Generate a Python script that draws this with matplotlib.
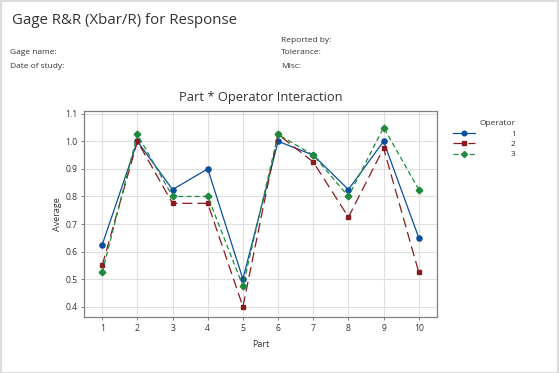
import matplotlib
matplotlib.use("Agg")
import matplotlib.pyplot as plt
from matplotlib.patches import Rectangle

plt.rcParams['font.family'] = ['Open Sans', 'DejaVu Sans']

parts = [1, 2, 3, 4, 5, 6, 7, 8, 9, 10]
operators = ["1", "2", "3"]
op1 = [0.625, 1.0, 0.825, 0.9, 0.5, 1.0, 0.95, 0.825, 1.0, 0.65]
op2 = [0.55, 1.0, 0.775, 0.775, 0.4, 1.025, 0.925, 0.725, 0.975, 0.525]
op3 = [0.525, 1.025, 0.8, 0.8, 0.475, 1.025, 0.95, 0.8, 1.05, 0.825]
yticks = [0.4, 0.5, 0.6, 0.7, 0.8, 0.9, 1.0, 1.1]

W, H = 559, 373
fig = plt.figure(figsize=(W / 100, H / 100), dpi=100)
fig.patch.set_facecolor('white')
fig.add_artist(Rectangle((0.5 / W, 0.5 / H), 1 - 1.5 / W, 1 - 1.5 / H,
                         transform=fig.transFigure, fill=False,
                         edgecolor='#d4d4d4', linewidth=1.2))

txtc = '#333333'
fig.text(12 / W, 1 - 20 / H, "Gage R&R (Xbar/R) for Response", fontsize=10.8,
         color=txtc, va='center', ha='left')
small = 6.0
fig.text(10 / W, 1 - 53 / H, "Gage name:", fontsize=small, color=txtc, va='center')
fig.text(10 / W, 1 - 66 / H, "Date of study:", fontsize=small, color=txtc, va='center')
fig.text(281 / W, 1 - 41 / H, "Reported by:", fontsize=small, color=txtc, va='center')
fig.text(281 / W, 1 - 53 / H, "Tolerance:", fontsize=small, color=txtc, va='center')
fig.text(281 / W, 1 - 66 / H, "Misc:", fontsize=small, color=txtc, va='center')

left, right, top, bottom = 84.3, 436.7, 111, 317.3
ax = fig.add_axes([left / W, 1 - bottom / H, (right - left) / W, (bottom - top) / H])

blue = '#0b4f9c'
red = '#8b1a1f'
green = '#1f8a3c'

ax.plot(parts, op1, color=blue, linestyle='-', linewidth=0.9, marker='o',
        markersize=3.7, label=operators[0], zorder=3)
ax.plot(parts, op2, color=red, linestyle=(0, (8, 4)), linewidth=0.9, marker='s',
        markersize=3.5, label=operators[1], zorder=3)
ax.plot(parts, op3, color=green, linestyle=(0, (4, 2.5)), linewidth=0.9, marker='D',
        markersize=3.4, label=operators[2], zorder=3)

ax.set_xlim(0.49, 10.51)
ax.set_ylim(0.3615, 1.110)
ax.set_xticks(parts)
ax.set_yticks(yticks)
ax.set_yticklabels([f"{v:.1f}" for v in yticks])
ax.grid(True, color='#e0e0e0', linewidth=0.8, zorder=0)
ax.set_axisbelow(True)
for s in ax.spines.values():
    s.set_color('#808080')
    s.set_linewidth(0.9)
ax.tick_params(axis='both', labelsize=6.2, colors='#808080', labelcolor=txtc,
               length=2.5, width=0.7, pad=2.5)

ax.set_title("Part * Operator Interaction", fontsize=9.3, color=txtc, pad=7)
ax.set_xlabel("Part", fontsize=6.5, color=txtc, labelpad=5)
ax.set_ylabel("Average", fontsize=6.5, color=txtc, labelpad=2)

leg = fig.legend(loc='upper left', bbox_to_anchor=(445 / W, 1 - 113 / H),
                 title="Operator", frameon=False, fontsize=6, title_fontsize=6,
                 handlelength=2.7, handletextpad=4.3, labelspacing=0.3,
                 markerscale=0.9, alignment='right')
for t in leg.get_texts():
    t.set_color(txtc)
leg.get_title().set_color(txtc)

fig.savefig("out.png", dpi=100, facecolor='white')
